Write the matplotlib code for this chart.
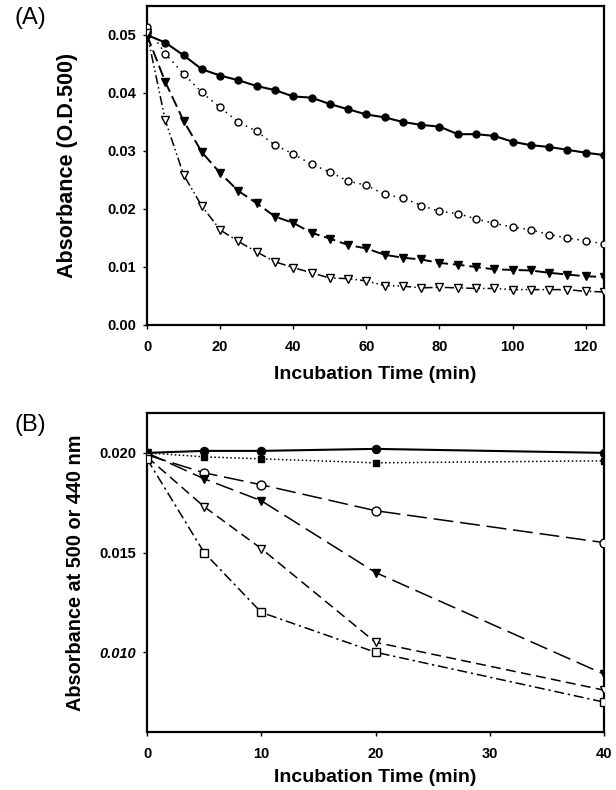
import matplotlib
matplotlib.use("Agg")
import matplotlib.pyplot as plt
from matplotlib import font_manager

plt.rcParams['font.family'] = ['Liberation Sans', 'DejaVu Sans']

# ---------------- Panel A data ----------------
time_a = list(range(0, 130, 5))
a_filled_circle = [0.0500, 0.0487, 0.0465, 0.0441, 0.0430, 0.0422, 0.0412, 0.0405, 0.0394, 0.0392,
                   0.0381, 0.0372, 0.0363, 0.0358, 0.0350, 0.0345, 0.0342, 0.0329, 0.0329, 0.0326,
                   0.0316, 0.0310, 0.0307, 0.0302, 0.0297, 0.0293]
a_open_circle = [0.0513, 0.0468, 0.0433, 0.0401, 0.0375, 0.0350, 0.0334, 0.0310, 0.0295, 0.0277,
                 0.0264, 0.0248, 0.0241, 0.0225, 0.0219, 0.0206, 0.0196, 0.0192, 0.0183, 0.0175,
                 0.0169, 0.0164, 0.0156, 0.0150, 0.0145, 0.0140]
a_filled_tri = [0.0500, 0.0419, 0.0352, 0.0298, 0.0262, 0.0231, 0.0210, 0.0187, 0.0176, 0.0159,
                0.0149, 0.0138, 0.0132, 0.0121, 0.0116, 0.0113, 0.0107, 0.0104, 0.0100, 0.0096,
                0.0095, 0.0094, 0.0090, 0.0087, 0.0084, 0.0083]
a_open_tri = [0.0503, 0.0353, 0.0259, 0.0205, 0.0164, 0.0144, 0.0126, 0.0109, 0.0099, 0.0090,
              0.0081, 0.0080, 0.0076, 0.0068, 0.0067, 0.0064, 0.0065, 0.0064, 0.0063, 0.0063,
              0.0061, 0.0061, 0.0061, 0.0061, 0.0058, 0.0057]
a_xticks = [0, 20, 40, 60, 80, 100, 120]
a_yticks = [0.00, 0.01, 0.02, 0.03, 0.04, 0.05]

# ---------------- Panel B data ----------------
time_b = [0, 5, 10, 20, 40]
b_filled_circle = [0.0200, 0.0201, 0.0201, 0.0202, 0.0200]
b_filled_square = [0.0200, 0.0198, 0.0197, 0.0195, 0.0196]
b_open_circle = [0.0199, 0.0190, 0.0184, 0.0171, 0.0155]
b_filled_tri = [0.0200, 0.0187, 0.0176, 0.0140, 0.0089]
b_open_tri = [0.0198, 0.0173, 0.0152, 0.0105, 0.0081]
b_open_square = [0.0197, 0.0150, 0.0120, 0.0100, 0.0075]
b_xticks = [0, 10, 20, 30, 40]
b_yticks = [0.010, 0.015, 0.020]

# condensed font for tick labels if available
try:
    font_manager.findfont(font_manager.FontProperties(family='Liberation Sans Narrow', weight='bold'),
                          fallback_to_default=False)
    tick_family = ['Liberation Sans Narrow', 'Liberation Sans']
    tick_size = 11.5
except Exception:
    tick_family = ['Liberation Sans', 'DejaVu Sans']
    tick_size = 10.5

W, H = 616, 790
fig = plt.figure(figsize=(W / 100, H / 100), dpi=100)
axA = fig.add_axes([147 / W, 1 - 325 / H, 457 / W, 319 / H])
axB = fig.add_axes([147 / W, 1 - 732 / H, 457 / W, 319 / H])

ms = 5.0
lw = 1.1
# Panel A
axA.plot(time_a, a_filled_circle, color='black', lw=1.5, ls='-', marker='o', ms=ms,
         mfc='black', mec='black', zorder=4)
axA.plot(time_a, a_open_circle, color='black', lw=lw, ls=(0, (1, 3)), marker='o', ms=ms,
         mfc='white', mec='black', mew=1.0, zorder=4)
axA.plot(time_a, a_filled_tri, color='black', lw=1.4, ls=(0, (6, 2.5)), marker='v', ms=ms + 0.3,
         mfc='black', mec='black', zorder=4)
axA.plot(time_a, a_open_tri, color='black', lw=lw, ls=(0, (6, 2, 1, 2, 1, 2)), marker='v', ms=ms + 0.3,
         mfc='white', mec='black', mew=1.0, zorder=4)
axA.set_xlim(0, 125)
axA.set_ylim(0, 0.055)
axA.set_xticks(a_xticks)
axA.set_yticks(a_yticks)
axA.set_xticklabels([str(v) for v in a_xticks])
axA.set_yticklabels(['%.2f' % v for v in a_yticks])
axA.set_xlabel('Incubation Time (min)', fontsize=14, fontweight='bold')
axA.set_ylabel('Absorbance (O.D.500)', fontsize=15.5, fontweight='bold')
axA.xaxis.set_label_coords(0.5, -0.13)
axA.yaxis.set_label_coords(-0.150, 0.5)

# Panel B
msb = 5.8
axB.plot(time_b, b_filled_circle, color='black', lw=1.5, ls='-', marker='o', ms=msb,
         mfc='black', mec='black', zorder=4)
axB.plot(time_b, b_filled_square, color='black', lw=lw, ls=(0, (1, 1.6)), marker='s', ms=msb - 0.8,
         mfc='black', mec='black', zorder=4)
axB.plot(time_b, b_open_circle, color='black', lw=lw, ls=(0, (13, 4.5)), marker='o', ms=msb + 0.6,
         mfc='white', mec='black', mew=1.0, zorder=4)
axB.plot(time_b, b_filled_tri, color='black', lw=lw, ls=(0, (12, 4.5)), marker='v', ms=msb,
         mfc='black', mec='black', zorder=4)
axB.plot(time_b, b_open_tri, color='black', lw=lw, ls=(0, (6.5, 3.5)), marker='v', ms=msb + 0.6,
         mfc='white', mec='black', mew=1.0, zorder=4)
axB.plot(time_b, b_open_square, color='black', lw=lw, ls=(0, (6.5, 2.5, 1.5, 2.5)), marker='s', ms=msb - 0.6,
         mfc='white', mec='black', mew=1.0, zorder=4)
axB.set_xlim(0, 40)
axB.set_ylim(0.006, 0.022)
axB.set_xticks(b_xticks)
axB.set_yticks(b_yticks)
axB.set_xticklabels([str(v) for v in b_xticks])
axB.set_yticklabels(['%.3f' % v for v in b_yticks])
axB.set_xlabel('Incubation Time (min)', fontsize=14, fontweight='bold')
axB.set_ylabel('Absorbance at 500 or 440 nm', fontsize=14.3, fontweight='bold')
axB.xaxis.set_label_coords(0.5, -0.115)
axB.yaxis.set_label_coords(-0.136, 0.5)

for ax in (axA, axB):
    for sp in ax.spines.values():
        sp.set_linewidth(1.6)
        sp.set_color('black')
    ax.tick_params(axis='both', direction='out', length=3, width=1.0,
                   top=False, right=False)
    ax.tick_params(axis='x', pad=8)
    ax.tick_params(axis='y', pad=5)
    for lab in ax.get_xticklabels() + ax.get_yticklabels():
        lab.set_fontweight('bold')
        lab.set_family(tick_family)
        lab.set_fontsize(tick_size)
    ax.set_facecolor('white')

axB.get_yticklabels()[0].set_fontstyle('italic')

fig.text(14 / W, 1 - 18 / H, '(A)', fontsize=17, ha='left', va='center')
fig.text(14 / W, 1 - 425 / H, '(B)', fontsize=17, ha='left', va='center')

fig.savefig('out.png', dpi=100, facecolor='white')
